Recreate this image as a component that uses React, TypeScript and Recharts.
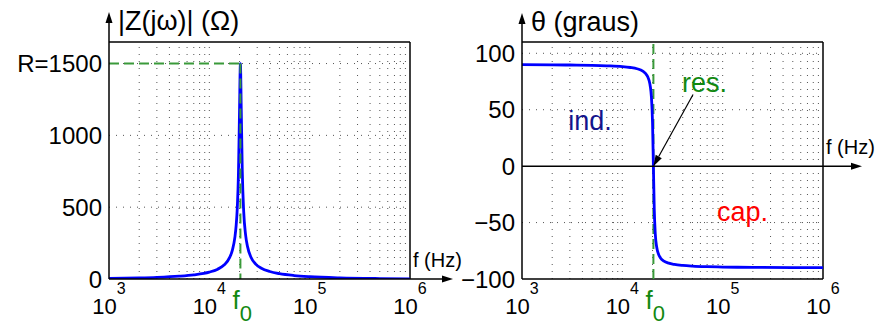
import React from 'react';
import { LineChart, Line, XAxis, YAxis, ReferenceLine, ReferenceDot } from 'recharts';

// frequency samples (Hz) and the curves
const FREQ = [
  1000, 2000, 3000, 5000, 7000, 10000, 12000, 14000, 16000, 17000, 18000, 18500, 19000, 19500, 20000,
  20400, 20800, 21300, 22000, 23000, 24000, 26000, 29000, 33000, 40000, 50000, 70000, 100000, 200000,
  500000, 1000000,
];
const MAG = [
  3.7, 7.4, 11.3, 19.6, 29.2, 48, 67, 97, 152, 203, 293, 371, 497, 727, 1176,
  1500, 1185, 751, 471, 305, 227, 152, 104, 75, 52, 37, 24, 16, 7.7,
  3.1, 1.5,
];
const PHASE = [
  89.9, 89.7, 89.6, 89.3, 88.9, 88.2, 87.4, 86.3, 84.2, 82.2, 78.7, 75.7, 70.6, 61.0, 38.4,
  0, -37.8, -59.9, -71.7, -78.3, -81.3, -84.2, -86.0, -87.1, -88.0, -88.6, -89.1, -89.4, -89.7,
  -89.9, -89.9,
];

const F0 = 20400;
const R = 1500;
const X_TICKS = [1000, 10000, 100000, 1000000];
const X_EXP = ['3', '4', '5', '6'];
const MINOR_F = [
  2000, 3000, 4000, 5000, 6000, 7000, 8000, 9000,
  20000, 30000, 40000, 50000, 60000, 70000, 80000, 90000,
  200000, 300000, 400000, 500000, 600000, 700000, 800000, 900000,
];
const MAG_TICKS = [0, 500, 1000, 1500];
const PHASE_TICKS = [-100, -50, 0, 50, 100];
const PHASE_GRID = [-50, 50, 100];

const rowsMag = FREQ.map((f, i) => ({ f, v: MAG[i] }));
const rowsPhase = FREQ.map((f, i) => ({ f, v: PHASE[i] }));

const FONT = 'Liberation Sans, Arial, Helvetica, sans-serif';
const GREEN = '#3a9a3a';
const GREEN_TXT = '#118811';
const GRID = { stroke: '#555', strokeDasharray: '1 6', strokeWidth: 1 };

const FreqTick = (props: any) => {
  const { x, y, payload } = props;
  if (payload.value === F0) {
    return (
      <text x={x - 8} y={y + 30} fontFamily={FONT} fill={GREEN_TXT} fontSize={26}>
        f<tspan dy={12} fontSize={22}>0</tspan>
      </text>
    );
  }
  const i = X_TICKS.indexOf(payload.value);
  return (
    <text x={x} y={y + 35} textAnchor="middle" fontFamily={FONT} fill="#000" fontSize={22}>
      10<tspan dy={-20} fontSize={16}>{X_EXP[i]}</tspan>
    </text>
  );
};

const yTick = (fmt: (v: number) => string) => (props: any) => (
  <text x={props.x - 7} y={props.y} textAnchor="end" dominantBaseline="central" fontFamily={FONT} fontSize={24} fill="#000">
    {fmt(props.payload.value)}
  </text>
);

const arrowUp = (ext: number, title: string) => (p: any) => {
  const x = p.x1;
  const yb = Math.max(p.y1, p.y2);
  const yt = Math.min(p.y1, p.y2) - ext;
  return (
    <g>
      <line x1={x} y1={yb} x2={x} y2={yt + 8} stroke="#000" strokeWidth={1.5} />
      <polygon points={`${x},${yt} ${x - 3.5},${yt + 11} ${x + 3.5},${yt + 11}`} fill="#000" />
      <text x={x + 9} y={yt + 18} fontFamily={FONT} fontSize={27} fill="#000">{title}</text>
    </g>
  );
};

const arrowRight = (ext: number) => (p: any) => {
  const y = p.y1;
  const xl = Math.min(p.x1, p.x2);
  const xe = Math.max(p.x1, p.x2);
  const xr = xe + ext;
  return (
    <g>
      <line x1={xl} y1={y} x2={xr - 8} y2={y} stroke="#000" strokeWidth={1.5} />
      <polygon points={`${xr},${y} ${xr - 11},${y - 3.5} ${xr - 11},${y + 3.5}`} fill="#000" />
      <text x={xe + 3} y={y - 12} fontFamily={FONT} fontSize={20} fill="#000">f (Hz)</text>
    </g>
  );
};

const pointer = (p: any) => {
  const { x1, y1, x2, y2 } = p;
  const len = Math.hypot(x2 - x1, y2 - y1);
  const ux = (x2 - x1) / len;
  const uy = (y2 - y1) / len;
  const bx = x2 - ux * 11;
  const by = y2 - uy * 11;
  return (
    <g>
      <line x1={x1} y1={y1} x2={bx} y2={by} stroke="#000" strokeWidth={1.2} />
      <polygon points={`${x2},${y2} ${bx - uy * 3.5},${by + ux * 3.5} ${bx + uy * 3.5},${by - ux * 3.5}`} fill="#000" />
    </g>
  );
};

const note = (txt: string, color: string) => (p: any) => (
  <text x={p.cx} y={p.cy} textAnchor="middle" dominantBaseline="central" fontFamily={FONT} fontSize={27} fill={color}>
    {txt}
  </text>
);

const solid = { stroke: '#000', strokeWidth: 1.5 };

export default function App() {
  return (
    <div style={{ position: 'absolute', left: 0, top: 0, width: 881, height: 325, background: '#fff', fontFamily: FONT }}>
      {/* |Z| */}
      <div style={{ position: 'absolute', left: 0, top: 0 }}>
        <LineChart width={470} height={325} data={rowsMag} margin={{ top: 42, right: 60, bottom: 0, left: 9 }}>
          <XAxis dataKey="f" type="number" scale="log" domain={[1000, 1000000]} allowDataOverflow
            ticks={[...X_TICKS, F0]} interval={0} tick={<FreqTick />} tickLine={false} axisLine={false}
            tickSize={0} tickMargin={0} height={46} />
          <YAxis type="number" domain={[0, 1650]} allowDataOverflow ticks={MAG_TICKS} interval={0} width={100}
            tick={yTick((v) => (v === R ? 'R=1500' : String(v)))} tickLine={false} axisLine={false} tickSize={0} tickMargin={0} />
          {MINOR_F.map((f) => <ReferenceLine key={f} x={f} {...GRID} />)}
          <ReferenceLine x={10000} {...GRID} />
          <ReferenceLine x={100000} {...GRID} />
          <ReferenceLine y={500} {...GRID} />
          <ReferenceLine y={1000} {...GRID} />
          <ReferenceLine y={1500} {...GRID} />
          <ReferenceLine y={1650} {...solid} />
          <ReferenceLine x={1000000} {...solid} />
          <Line dataKey="v" type="monotone" stroke="#0000ff" strokeWidth={2.8} dot={false} activeDot={false} isAnimationActive={false} />
          <ReferenceLine segment={[{ x: 1000, y: R }, { x: F0, y: R }]} stroke={GREEN} strokeWidth={2} strokeDasharray="10 5" />
          <ReferenceLine segment={[{ x: F0, y: R }, { x: F0, y: 0 }]} stroke={GREEN} strokeWidth={2} strokeDasharray="10 5" />
          <ReferenceLine x={1000} shape={arrowUp(30, '|Z(jω)| (Ω)')} />
          <ReferenceLine y={0} shape={arrowRight(43)} />
        </LineChart>
      </div>
      {/* theta */}
      <div style={{ position: 'absolute', left: 440, top: 0 }}>
        <LineChart width={441} height={325} data={rowsPhase} margin={{ top: 42, right: 58, bottom: 0, left: 0 }}>
          <XAxis dataKey="f" type="number" scale="log" domain={[1000, 1000000]} allowDataOverflow
            ticks={[...X_TICKS, F0]} interval={0} tick={<FreqTick />} tickLine={false} axisLine={false}
            tickSize={0} tickMargin={0} height={46} />
          <YAxis type="number" domain={[-100, 110]} allowDataOverflow ticks={PHASE_TICKS} interval={0} width={82}
            tick={yTick((v) => (v < 0 ? '\u2212' + Math.abs(v) : String(v)))} tickLine={false} axisLine={false} tickSize={0} tickMargin={0} />
          {MINOR_F.map((f) => <ReferenceLine key={f} x={f} {...GRID} />)}
          <ReferenceLine x={10000} {...GRID} />
          <ReferenceLine x={100000} {...GRID} />
          {PHASE_GRID.map((v) => <ReferenceLine key={v} y={v} {...GRID} />)}
          <ReferenceLine y={110} {...solid} />
          <ReferenceLine y={-100} {...solid} />
          <ReferenceLine x={1000000} {...solid} />
          <ReferenceLine x={F0} stroke={GREEN} strokeWidth={2} strokeDasharray="10 5" />
          <Line dataKey="v" type="monotone" stroke="#0000ff" strokeWidth={2.8} dot={false} activeDot={false} isAnimationActive={false} />
          <ReferenceLine x={1000} shape={arrowUp(29, 'θ (graus)')} />
          <ReferenceLine y={0} shape={arrowRight(39)} />
          <ReferenceLine segment={[{ x: 50700, y: 63.5 }, { x: F0, y: 0 }]} shape={pointer} />
          <ReferenceDot x={4770} y={40} r={1} shape={note('ind.', '#14148c')} />
          <ReferenceDot x={66000} y={74} r={1} shape={note('res.', GREEN_TXT)} />
          <ReferenceDot x={158000} y={-41} r={1} shape={note('cap.', '#ff0000')} />
        </LineChart>
      </div>
    </div>
  );
}
